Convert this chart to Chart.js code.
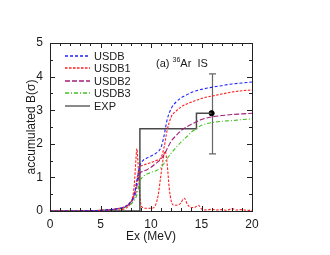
<!DOCTYPE html>
<html><head><meta charset="utf-8">
<script src="https://cdn.jsdelivr.net/npm/chart.js@4/dist/chart.umd.min.js"></script>
<style>html,body{margin:0;padding:0;background:#fff}</style>
</head><body>
<canvas id="c" width="330" height="255" style="width:330px;height:255px;display:block"></canvas>
<script>
// ---- data ----
const xTicks = [0, 5, 10, 15, 20];
const yTicks = [0, 1, 2, 3, 4, 5];

const usdbX  = [0,2,4,5,6,6.5,7,7.5,8,8.3,8.5,8.7,8.9,9.2,9.6,10,10.5,11,11.3,11.6,12,12.5,13,13.5,14,15,16,17,18,19,20];
const usdbY  = [0,0,0.01,0.02,0.04,0.06,0.09,0.14,0.28,0.45,0.7,1.05,1.35,1.5,1.58,1.64,1.72,1.9,2.25,2.72,3.05,3.25,3.37,3.45,3.53,3.62,3.68,3.73,3.78,3.81,3.84];

const usdb1X = [0,2,4,5,6,6.5,7,7.5,8,8.3,8.5,8.7,8.9,9.2,9.6,10,10.5,11,11.3,11.6,12,12.5,13,13.5,14,15,16,17,18,19,20];
const usdb1Y = [0,0,0.01,0.02,0.04,0.06,0.09,0.14,0.28,0.45,0.75,1.1,1.3,1.36,1.4,1.44,1.5,1.6,1.9,2.4,2.8,2.98,3.1,3.18,3.24,3.35,3.42,3.48,3.54,3.58,3.6];

const usdb2X = [0,2,4,5,6,6.5,7,7.5,8,8.3,8.5,8.7,8.9,9.2,9.6,10,10.5,11,11.3,11.6,12,12.5,13,13.5,14,15,16,17,18,19,20];
const usdb2Y = [0,0,0.01,0.02,0.04,0.06,0.08,0.13,0.25,0.38,0.55,0.9,1.12,1.18,1.23,1.3,1.42,1.55,1.68,1.85,2.08,2.25,2.4,2.5,2.58,2.72,2.8,2.84,2.87,2.89,2.91];

const usdb3X = [0,2,4,5,6,6.5,7,7.5,8,8.3,8.5,8.7,8.9,9.2,9.6,10,10.5,11,11.3,11.6,12,12.5,13,13.5,14,14.5,15,16,17,18,19,20];
const usdb3Y = [0,0,0.01,0.02,0.04,0.05,0.07,0.11,0.2,0.3,0.4,0.6,0.88,1.02,1.1,1.15,1.2,1.3,1.42,1.56,1.72,1.9,2.06,2.2,2.35,2.45,2.55,2.63,2.67,2.69,2.72,2.74];

// USDB1 strength distribution (non-accumulated)
const strX = [0,3,5,6,7,7.5,8,8.2,8.35,8.5,8.6,8.7,8.8,8.9,9.0,9.2,9.5,10,10.4,10.7,10.95,11.2,11.4,11.6,11.8,12,12.2,12.5,12.9,13.3,13.6,14,14.4,14.7,15,15.5,16,16.5,17,17.5,18,18.5,19,19.5,20];
const strY = [0,0,0.01,0.02,0.04,0.08,0.25,0.45,0.8,1.5,1.86,1.5,0.9,0.45,0.2,0.1,0.08,0.08,0.15,0.45,1.0,1.55,1.78,1.4,0.7,0.3,0.18,0.17,0.22,0.38,0.2,0.1,0.12,0.17,0.06,0.03,0.05,0.03,0.04,0.02,0.07,0.03,0.04,0.02,0.02];

// experimental accumulated (step) and final point with error
const expStepX = [0, 8.9, 14.5, 16];
const expStepY = [0, 2.45, 2.91, 2.91];
const expPtX = [16];
const expPtY = [2.91];
const expErrLo = [1.70];
const expErrHi = [4.08];

const pts = (xs, ys) => xs.map((x, i) => ({x, y: ys[i]}));

const TEXT = '#1a1a1a';
const FONT = '"Liberation Sans", Arial, Helvetica, sans-serif';

const datasets = [
  {label:'USDB',  data:pts(usdbX,usdbY),   borderColor:'#2020ff', borderDash:[3,2],     borderWidth:1.1, cubicInterpolationMode:'monotone'},
  {label:'USDB1', data:pts(usdb1X,usdb1Y), borderColor:'#ff2020', borderDash:[2.5,1.5], borderWidth:1.1, cubicInterpolationMode:'monotone'},
  {label:'USDB2', data:pts(usdb2X,usdb2Y), borderColor:'#a0207a', borderDash:[5,2],     borderWidth:1.1, cubicInterpolationMode:'monotone'},
  {label:'USDB3', data:pts(usdb3X,usdb3Y), borderColor:'#40c020', borderDash:[4,2,1,2], borderWidth:1.1, cubicInterpolationMode:'monotone'},
  {label:'EXP',   data:pts(expStepX,expStepY), borderColor:'#4a4a4a', borderWidth:1.5, stepped:'before', legendWidth:2, legendColor:'#8a8a8a'},
  {label:'USDB1 strength', hideInLegend:true, data:pts(strX,strY), borderColor:'#ff2020', borderDash:[2.5,1.5], borderWidth:1.1, cubicInterpolationMode:'monotone'},
  {label:'EXP point', hideInLegend:true, data:pts(expPtX,expPtY), showLine:false, pointRadius:2.6, pointBackgroundColor:'#000', pointBorderColor:'#000'}
];

const decor = {
  id:'decor',
  beforeDatasetsDraw(chart){
    const {ctx} = chart;
    const xs = chart.scales.x, ys = chart.scales.y;
    ctx.save();
    ctx.strokeStyle = '#666'; ctx.lineWidth = 1.2;
    expPtX.forEach((v,i)=>{
      const px = Math.round(xs.getPixelForValue(v)) + 0.5;
      const lo = ys.getPixelForValue(expErrLo[i]);
      const hi = ys.getPixelForValue(expErrHi[i]);
      ctx.beginPath();
      ctx.moveTo(px, lo); ctx.lineTo(px, hi);
      ctx.moveTo(px-3.5, lo); ctx.lineTo(px+3.5, lo);
      ctx.moveTo(px-3.5, hi); ctx.lineTo(px+3.5, hi);
      ctx.stroke();
    });
    ctx.restore();
  },
  afterDatasetsDraw(chart){
    const {ctx, chartArea:a} = chart;
    const xs = chart.scales.x, ys = chart.scales.y;
    ctx.save();
    ctx.strokeStyle = '#222'; ctx.lineWidth = 1; ctx.setLineDash([]);
    ctx.strokeRect(Math.round(a.left)+0.5, Math.round(a.top)+0.5, Math.round(a.right-a.left), Math.round(a.bottom-a.top));
    ctx.beginPath();
    for (let v = 0; v <= 20; v += 1) {
      const px = Math.round(xs.getPixelForValue(v)) + 0.5;
      const L = (v % 5 === 0) ? 5 : 3;
      ctx.moveTo(px, a.bottom); ctx.lineTo(px, a.bottom - L);
      ctx.moveTo(px, a.top); ctx.lineTo(px, a.top + L);
    }
    for (let v = 0; v <= 5; v += 0.5) {
      const py = Math.round(ys.getPixelForValue(v)) + 0.5;
      const L = (v % 1 === 0) ? 5 : 3;
      ctx.moveTo(a.left, py); ctx.lineTo(a.left + L, py);
      ctx.moveTo(a.right, py); ctx.lineTo(a.right - L, py);
    }
    ctx.stroke();
    // legend
    ctx.font = '11px ' + FONT;
    ctx.textBaseline = 'middle';
    ctx.fillStyle = TEXT;
    let row = 0;
    chart.data.datasets.forEach(ds => {
      if (ds.hideInLegend) return;
      const y = Math.round(a.top + 12.5 + row * 12.5);
      ctx.beginPath();
      ctx.strokeStyle = ds.legendColor || ds.borderColor;
      ctx.lineWidth = ds.legendWidth || 1.3;
      ctx.setLineDash(ds.borderDash || []);
      ctx.moveTo(a.left + 15, y); ctx.lineTo(a.left + 40, y);
      ctx.stroke();
      ctx.setLineDash([]);
      ctx.fillText(ds.label, a.left + 44, y + 0.5);
      row++;
    });
    // annotation
    let x0 = xs.getPixelForValue(10.5);
    const yb = a.top + 24;
    ctx.textBaseline = 'alphabetic';
    ctx.font = '11px ' + FONT;
    ctx.fillText('(a) ', x0, yb); x0 += ctx.measureText('(a) ').width;
    ctx.font = '7px ' + FONT;
    ctx.fillText('36', x0, yb - 5); x0 += ctx.measureText('36').width;
    ctx.font = '11px ' + FONT;
    ctx.fillText('Ar  IS', x0, yb);
    ctx.restore();
  }
};

new Chart(document.getElementById('c'), {
  type:'line',
  data:{datasets},
  options:{
    responsive:false, animation:false, devicePixelRatio:1,
    layout:{padding:{top:43, right:78, left:0, bottom:0}},
    elements:{point:{radius:0}, line:{tension:0.4}},
    plugins:{legend:{display:false}, tooltip:{enabled:false}},
    scales:{
      x:{type:'linear', min:0, max:20,
         afterBuildTicks:s=>{s.ticks = xTicks.map(v=>({value:v}));},
         afterFit:s=>{s.height = 44;},
         grid:{display:false, drawTicks:false}, border:{display:false},
         ticks:{font:{size:12, family:FONT}, color:TEXT, padding:6, maxRotation:0},
         title:{display:true, text:'Ex (MeV)', font:{size:12, family:FONT}, color:TEXT, padding:{top:0,bottom:11}}},
      y:{type:'linear', min:0, max:5,
         afterBuildTicks:s=>{s.ticks = yTicks.map(v=>({value:v}));},
         afterFit:s=>{s.width = 50;},
         grid:{display:false, drawTicks:false}, border:{display:false},
         ticks:{font:{size:12, family:FONT}, color:TEXT, padding:7},
         title:{display:true, text:'accumulated B(σ)', font:{size:12, family:FONT}, color:TEXT, padding:{top:24,bottom:0}}}
    }
  },
  plugins:[decor]
});
</script>
</body></html>
